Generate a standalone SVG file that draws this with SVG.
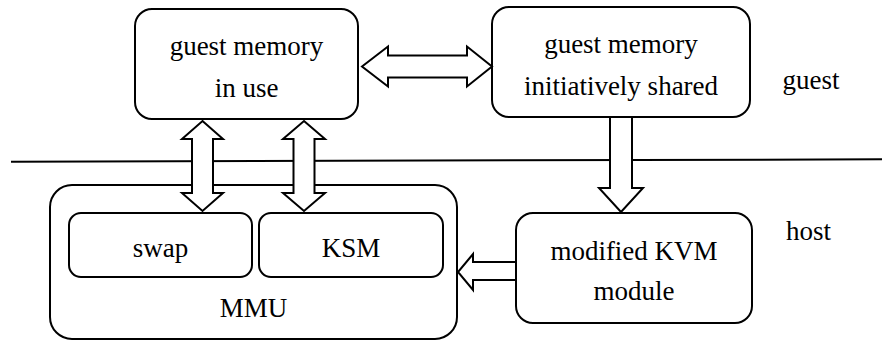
<svg xmlns="http://www.w3.org/2000/svg" width="882" height="341" viewBox="0 0 882 341">
  <style>
    .box { fill: #fff; stroke: #000; stroke-width: 2; }
    .arrow { fill: #fff; stroke: #000; stroke-width: 2; stroke-linejoin: miter; }
    .divider { stroke: #000; stroke-width: 2; fill: none; }
    .lbl { font-family: 'Liberation Serif', 'Times New Roman', serif; font-size: 27px; fill: #000; text-anchor: middle; }
    .side { text-anchor: start; }
  </style>
  <rect width="882" height="341" fill="#fff"/>

  <!-- guest / host boundary -->
  <line class="divider" x1="11" y1="161.7" x2="882" y2="159.3"/>

  <g id="guest-mem-in-use">
    <rect class="box" x="135" y="9" width="223" height="110" rx="17"/>
    <text class="lbl" x="246.5" y="55">guest memory</text>
    <text class="lbl" x="246.5" y="97">in use</text>
  </g>

  <g id="guest-mem-shared">
    <rect class="box" x="492" y="7" width="258" height="110" rx="17"/>
    <text class="lbl" x="621" y="53">guest memory</text>
    <text class="lbl" x="621" y="95">initiatively shared</text>
  </g>

  <g id="mmu">
    <rect class="box" x="50" y="185" width="407" height="154" rx="22"/>
    <text class="lbl" x="253.5" y="317">MMU</text>
  </g>

  <g id="swap">
    <rect class="box" x="69" y="213" width="183" height="64" rx="12"/>
    <text class="lbl" x="160.5" y="257">swap</text>
  </g>

  <g id="ksm">
    <rect class="box" x="259" y="213" width="184" height="64" rx="12"/>
    <text class="lbl" x="351" y="257">KSM</text>
  </g>

  <g id="kvm-module">
    <rect class="box" x="516" y="213" width="236" height="110" rx="17"/>
    <text class="lbl" x="634" y="260">modified KVM</text>
    <text class="lbl" x="634" y="300">module</text>
  </g>

  <g id="labels">
    <text class="lbl side" x="782.5" y="89">guest</text>
    <text class="lbl side" x="786" y="240">host</text>
  </g>

  <g id="connectors">
    <!-- in use <-> initiatively shared -->
    <polygon class="arrow" points="362,66.5 388,46.5 388,55.5 467,55.5 467,46.5 492,66.5 467,86.5 467,77.5 388,77.5 388,86.5"/>
    <!-- in use <-> swap -->
    <polygon class="arrow" points="202.5,121 223,139 213,139 213,193 223,193 202.5,211 182,193 192,193 192,139 182,139"/>
    <!-- in use <-> KSM -->
    <polygon class="arrow" points="304,121 325,139 314.5,139 314.5,193 325,193 304,211 283,193 293.5,193 293.5,139 283,139"/>
    <!-- shared -> KVM module -->
    <polygon class="arrow" points="610,117 632,117 632,188 643,188 621,212 599,188 610,188"/>
    <!-- KVM module -> MMU -->
    <polygon class="arrow" points="516,262 516,280 473,280 473,290 458,272 473,254 473,262"/>
  </g>
</svg>
